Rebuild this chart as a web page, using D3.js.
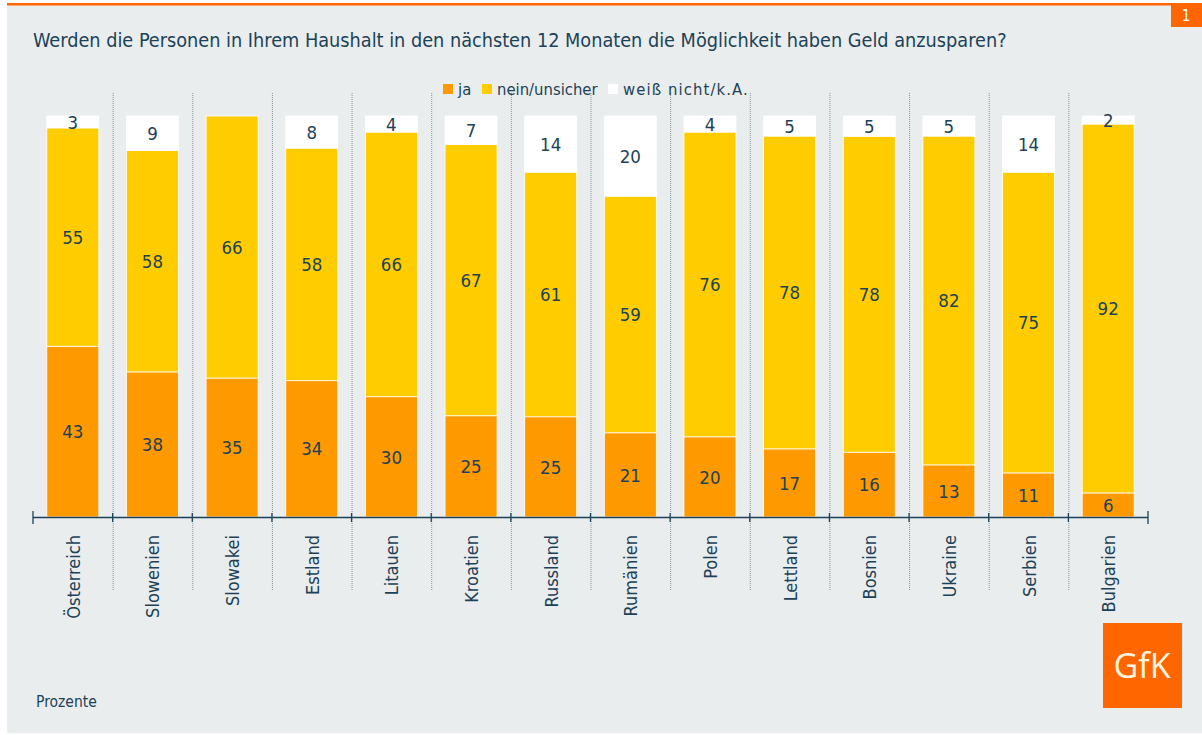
<!DOCTYPE html>
<html lang="de">
<head>
  <meta charset="UTF-8">
  <title>Geld anzusparen</title>
  <script src="https://d3js.org/d3.v7.min.js"></script>
  <style>
    body { margin: 0; padding: 0; background: #fff; }
    svg { display: block; font-family: "DejaVu Sans Condensed", "DejaVu Sans", sans-serif; }
    .txt { fill: #1d4257; }
  </style>
</head>
<body>
  <svg id="chart" width="1202" height="735"></svg>
  <script>
    const countries = ["Österreich", "Slowenien", "Slowakei", "Estland", "Litauen", "Kroatien", "Russland",
      "Rumänien", "Polen", "Lettland", "Bosnien", "Ukraine", "Serbien", "Bulgarien"];
    const ja = [43, 38, 35, 34, 30, 25, 25, 21, 20, 17, 16, 13, 11, 6];
    const nein = [55, 58, 66, 58, 66, 67, 61, 59, 76, 78, 78, 82, 75, 92];
    const weiss = [3, 9, 0, 8, 4, 7, 14, 20, 4, 5, 5, 5, 14, 2];
    const seriesNames = ["ja", "nein/unsicher", "weiß nicht/k.A."];
    const seriesKeys = ["ja", "nein", "weiss"];
    const colors = ["#ff9900", "#ffcc00", "#ffffff"];

    const svg = d3.select("#chart");
    const W = 1202, H = 735;

    // panel
    svg.append("rect").attr("x", 7).attr("y", 5).attr("width", W - 7).attr("height", 728).attr("fill", "#e9edee");
    svg.append("rect").attr("x", 7).attr("y", 3).attr("width", W - 7).attr("height", 2.5).attr("fill", "#ff6600");
    svg.append("rect").attr("x", 1171).attr("y", 5).attr("width", 31).attr("height", 22).attr("fill", "#ff6600");
    svg.append("text").attr("x", 1186).attr("y", 21).attr("text-anchor", "middle")
      .attr("fill", "#fff").attr("font-size", 15).text("1");

    svg.append("text").attr("class", "txt").attr("x", 33).attr("y", 47).attr("font-size", 19.7)
      .text("Werden die Personen in Ihrem Haushalt in den nächsten 12 Monaten die Möglichkeit haben Geld anzusparen?");

    const data = countries.map((c, i) => ({ land: c, ja: ja[i], nein: nein[i], weiss: weiss[i] }));
    const norm = data.map(d => {
      const t = d.ja + d.nein + d.weiss;
      return { land: d.land, ja: d.ja / t, nein: d.nein / t, weiss: d.weiss / t, raw: d };
    });
    const stacked = d3.stack().keys(seriesKeys)(norm);

    const x = d3.scaleBand().domain(countries).range([33, 1148]).paddingInner(0).paddingOuter(0);
    const y = d3.scaleLinear().domain([0, 1]).range([517, 116]);
    const barW = 52;
    const off = (x.bandwidth() - barW) / 2;

    // dotted separators
    svg.append("g").selectAll("line").data(countries.slice(1)).join("line")
      .attr("x1", d => x(d) + 0.5).attr("x2", d => x(d) + 0.5)
      .attr("y1", 93).attr("y2", 590)
      .attr("stroke", "#8a9398").attr("stroke-width", 1).attr("stroke-dasharray", "1,1");

    // bars
    const g = svg.append("g");
    stacked.forEach((s, si) => {
      g.selectAll(null).data(s).join("rect")
        .attr("x", d => x(d.data.land) + off)
        .attr("width", barW)
        .attr("y", d => y(d[1]))
        .attr("height", d => Math.max(0, y(d[0]) - y(d[1])))
        .attr("fill", colors[si])
        .attr("stroke", "#ffffff").attr("stroke-width", 0.8);
    });

    // labels
    stacked.forEach((s, si) => {
      g.selectAll(null).data(s.filter(d => d.data.raw[seriesKeys[si]] > 0)).join("text")
        .attr("class", "txt")
        .attr("x", d => x(d.data.land) + x.bandwidth() / 2)
        .attr("y", d => (y(d[0]) + y(d[1])) / 2)
        .attr("dy", "0.36em")
        .attr("text-anchor", "middle")
        .attr("font-size", 18.5)
        .text(d => d.data.raw[seriesKeys[si]]);
    });

    // axis
    const ax = svg.append("g").attr("stroke", "#1d4257").attr("stroke-width", 1.3);
    ax.append("line").attr("x1", 33).attr("x2", 1148).attr("y1", 517.5).attr("y2", 517.5);
    const bounds = countries.map(c => x(c)).concat([x.range()[1]]);
    ax.selectAll(null).data(bounds).join("line")
      .attr("x1", d => d).attr("x2", d => d)
      .attr("y1", (d, i) => (i === 0 || i === bounds.length - 1) ? 511 : 513)
      .attr("y2", (d, i) => (i === 0 || i === bounds.length - 1) ? 524 : 522);

    svg.append("g").selectAll("text").data(countries).join("text")
      .attr("class", "txt")
      .attr("font-size", 18)
      .attr("text-anchor", "end")
      .attr("transform", d => `translate(${x(d) + x.bandwidth() / 2 + 7},535) rotate(-90)`)
      .text(d => d);

    // legend
    const leg = svg.append("g").attr("transform", "translate(443,84)");
    const legX = [0, 39, 165];
    seriesNames.forEach((n, i) => {
      leg.append("rect").attr("x", legX[i]).attr("y", 0).attr("width", 10).attr("height", 10).attr("fill", colors[i]);
      leg.append("text").attr("class", "txt").attr("x", legX[i] + 15).attr("y", 11).attr("font-size", 16.5)
        .attr("letter-spacing", i === 2 ? 1.1 : 0).text(n);
    });

    // logo + note
    svg.append("rect").attr("x", 1103).attr("y", 623).attr("width", 79).attr("height", 85).attr("fill", "#ff6600");
    svg.append("text").attr("x", 1142).attr("y", 678).attr("text-anchor", "middle")
      .attr("fill", "#fff6e0").attr("font-size", 34).attr("font-family", "Open Sans, sans-serif").text("GfK");
    svg.append("text").attr("class", "txt").attr("x", 36).attr("y", 707).attr("font-size", 15.5).text("Prozente");
  </script>
</body>
</html>
